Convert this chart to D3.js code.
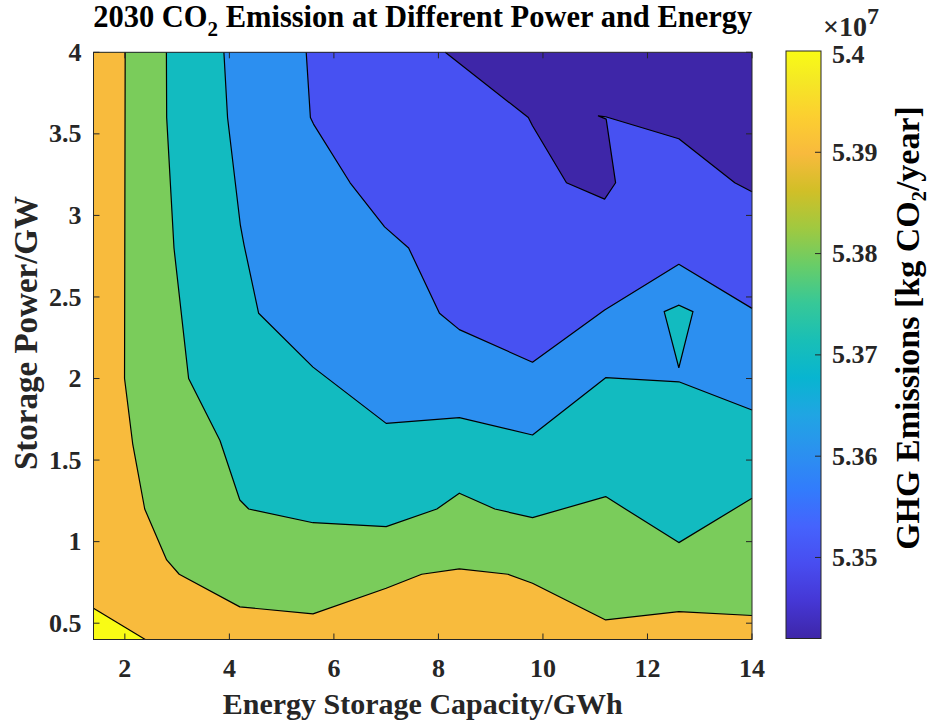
<!DOCTYPE html>
<html>
<head>
<meta charset="utf-8">
<script src="https://cdn.jsdelivr.net/npm/d3@7"></script>
<style>
  body { margin: 0; background: #fff; }
  text { font-family: "Liberation Serif", "Times New Roman", serif; font-weight: bold; }
</style>
</head>
<body>
<div id="chart"></div>
<script>
var width = 929, height = 727;

// contour levels, units of 1e7 kg CO2/year
var levels = [5.35, 5.36, 5.37, 5.38, 5.39, 5.40];
var zMin = 5.342, zMax = 5.40;

var xTicks = [2, 4, 6, 8, 10, 12, 14];
var yTicks = [0.5, 1, 1.5, 2, 2.5, 3, 3.5, 4];
var cTicks = [5.35, 5.36, 5.37, 5.38, 5.39, 5.40];

// contour lines: [energy GWh, power GW]
var line535 = [[8.13, 4.0], [9.72, 3.6], [9.8, 3.55], [10.45, 3.2], [11.18, 3.1], [11.39, 3.2],
               [11.21, 3.59], [11.06, 3.61], [11.2, 3.605], [12.6, 3.47], [13.67, 3.2], [14.0, 3.145]];
var line536 = [[5.47, 4.0], [5.55, 3.6], [5.61, 3.56], [6.31, 3.2], [6.97, 2.93], [7.43, 2.8],
               [8.02, 2.4], [8.4, 2.3], [9.8, 2.1], [11.18, 2.42], [12.6, 2.7], [14.0, 2.43]];
var line537 = [[3.895, 4.0], [3.965, 3.6], [4.21, 2.94], [4.28, 2.82], [4.56, 2.4], [5.6, 2.07],
               [7.0, 1.725], [8.4, 1.76], [9.8, 1.654], [11.2, 2.005], [12.6, 1.98], [14.0, 1.807]];
var island537 = [[12.32, 2.41], [12.6, 2.45], [12.87, 2.41], [12.6, 2.066]];
var line538 = [[2.795, 4.0], [2.8, 3.6], [2.94, 2.8], [3.22, 2.0], [3.82, 1.62], [4.2, 1.255],
               [4.37, 1.2], [5.6, 1.116], [7.0, 1.092], [7.97, 1.2], [8.4, 1.297], [9.08, 1.2],
               [9.8, 1.147], [11.2, 1.276], [12.6, 0.994], [14.0, 1.266]];
var line539 = [[2.006, 4.0], [1.994, 2.0], [2.15, 1.6], [2.38, 1.2], [2.8, 0.888], [3.04, 0.8],
               [4.2, 0.6], [5.6, 0.557], [7.0, 0.714], [7.68, 0.8], [8.4, 0.833], [9.33, 0.8],
               [9.8, 0.745], [11.2, 0.52], [12.6, 0.571], [14.0, 0.547]];
var line540 = [[1.4, 0.592], [2.39, 0.4]];

var contourLines = [line535, line536, line537, line538, line539, line540];

// parula colour map stops
var parulaPos = [0, 4, 8, 12, 16, 20, 24, 28, 32, 36, 40, 44, 48, 52, 56, 60, 63].map(function (d) { return d / 63; });
var parulaHex = ["#3e26a8", "#4537d5", "#484df0", "#4563fd", "#327cfc", "#2b91ef", "#20a5e3", "#08b5d0",
                 "#19bfb6", "#37c897", "#68cd68", "#a0c940", "#d1bf27", "#f8ba3d", "#fccf30", "#f5e924", "#f9fb15"];

var parula = d3.scaleLinear().domain(parulaPos).range(parulaHex).interpolate(d3.interpolateRgb);
function levelColor(z) { return parula((z - zMin) / (zMax - zMin)); }

var xMin = 1.4, xMax = 14, yMin = 0.4, yMax = 4;

var x = d3.scaleLinear().domain([xMin, xMax]).range([93.5, 752]);
var y = d3.scaleLinear().domain([yMin, yMax]).range([639.5, 52.3]);
var c = d3.scaleLinear().domain([zMin, zMax]).range([638.5, 51]);

var svg = d3.select("#chart").append("svg")
            .attr("width", width)
            .attr("height", height);

var axisColor = "#262626";

// position of a boundary point going clockwise round the plot box
function perim(p) {
  var e = 1e-6;
  if (Math.abs(p[1] - yMax) < e) return (p[0] - xMin) / (xMax - xMin);
  if (Math.abs(p[0] - xMax) < e) return 1 + (yMax - p[1]) / (yMax - yMin);
  if (Math.abs(p[1] - yMin) < e) return 2 + (xMax - p[0]) / (xMax - xMin);
  return 3 + (p[1] - yMin) / (yMax - yMin);
}
var corners = [[xMin, yMax], [xMax, yMax], [xMax, yMin], [xMin, yMin]];

// region where z >= level: the line plus the box boundary on its high side
function closeRegion(pts) {
  var pe = perim(pts[pts.length - 1]), ps = perim(pts[0]);
  if (ps <= pe) ps += 4;
  var out = pts.slice();
  for (var k = Math.ceil(pe); k < ps; k++) {
    out.push(corners[k % 4]);
  }
  return out;
}

var lineGen = d3.line().x(function (d) { return x(d[0]); }).y(function (d) { return y(d[1]); });

var plot = svg.append("g");

plot.append("rect")
    .attr("x", x(xMin)).attr("y", y(yMax))
    .attr("width", x(xMax) - x(xMin))
    .attr("height", y(yMin) - y(yMax))
    .attr("fill", parula(0));

contourLines.forEach(function (pts, i) {
  plot.append("path")
      .attr("d", lineGen(closeRegion(pts)) + "Z")
      .attr("fill", levelColor(levels[i]));
  if (levels[i] === 5.37) {
    plot.append("path")
        .attr("d", lineGen(island537) + "Z")
        .attr("fill", levelColor(5.37));
  }
});

contourLines.forEach(function (pts) {
  plot.append("path")
      .attr("d", lineGen(pts))
      .attr("fill", "none")
      .attr("stroke", "#000")
      .attr("stroke-width", 1.2)
      .attr("stroke-linejoin", "round");
});
plot.append("path")
    .attr("d", lineGen(island537) + "Z")
    .attr("fill", "none")
    .attr("stroke", "#000")
    .attr("stroke-width", 1.2);

// axes box with inward ticks on all sides
var tickLen = 6;
var ax = svg.append("g").attr("stroke", axisColor).attr("stroke-width", 1);

ax.append("rect")
  .attr("x", x(xMin)).attr("y", y(yMax))
  .attr("width", x(xMax) - x(xMin))
  .attr("height", y(yMin) - y(yMax))
  .attr("fill", "none");

xTicks.forEach(function (t) {
  ax.append("line").attr("x1", x(t)).attr("x2", x(t)).attr("y1", y(yMin)).attr("y2", y(yMin) - tickLen);
  ax.append("line").attr("x1", x(t)).attr("x2", x(t)).attr("y1", y(yMax)).attr("y2", y(yMax) + tickLen);
});
yTicks.forEach(function (t) {
  ax.append("line").attr("x1", x(xMin)).attr("x2", x(xMin) + tickLen).attr("y1", y(t)).attr("y2", y(t));
  ax.append("line").attr("x1", x(xMax)).attr("x2", x(xMax) - tickLen).attr("y1", y(t)).attr("y2", y(t));
});

svg.selectAll(".xlab").data(xTicks).enter().append("text")
   .attr("x", function (d) { return x(d); })
   .attr("y", 677)
   .attr("text-anchor", "middle")
   .attr("font-size", "26px")
   .attr("fill", axisColor)
   .text(function (d) { return d; });

svg.selectAll(".ylab").data(yTicks).enter().append("text")
   .attr("x", 81.5)
   .attr("y", function (d) { return y(d); })
   .attr("dy", "0.33em")
   .attr("text-anchor", "end")
   .attr("font-size", "26px")
   .attr("fill", axisColor)
   .text(function (d) { return d; });

// title
var title = svg.append("text")
               .attr("x", (x(xMin) + x(xMax)) / 2)
               .attr("y", 27)
               .attr("text-anchor", "middle")
               .attr("font-size", "30.5px")
               .attr("fill", "#000");
title.append("tspan").text("2030 CO");
title.append("tspan").text("2").attr("font-size", "21px").attr("dy", 9);
title.append("tspan").text(" Emission at Different Power and Energy").attr("dy", -9);

svg.append("text")
   .attr("x", (x(xMin) + x(xMax)) / 2)
   .attr("y", 714)
   .attr("text-anchor", "middle")
   .attr("font-size", "30px")
   .attr("fill", axisColor)
   .text("Energy Storage Capacity/GWh");

svg.append("text")
   .attr("transform", "translate(37,333) rotate(-90)")
   .attr("text-anchor", "middle")
   .attr("font-size", "33px")
   .attr("fill", axisColor)
   .text("Storage Power/GW");

// colour bar
var defs = svg.append("defs");
var grad = defs.append("linearGradient")
               .attr("id", "parulaGrad")
               .attr("x1", 0).attr("y1", 1).attr("x2", 0).attr("y2", 0);
parulaPos.forEach(function (p, i) {
  grad.append("stop").attr("offset", p).attr("stop-color", parulaHex[i]);
});

var cbX = 786, cbW = 35;
svg.append("rect")
   .attr("x", cbX).attr("y", c(zMax))
   .attr("width", cbW).attr("height", c(zMin) - c(zMax))
   .attr("fill", "url(#parulaGrad)")
   .attr("stroke", axisColor)
   .attr("stroke-width", 1);

cTicks.forEach(function (t) {
  if (t < zMax) {
    svg.append("line")
       .attr("x1", cbX + cbW).attr("x2", cbX + cbW - 6)
       .attr("y1", c(t)).attr("y2", c(t))
       .attr("stroke", axisColor);
  }
});

svg.selectAll(".clab").data(cTicks).enter().append("text")
   .attr("x", 832)
   .attr("y", function (d) { return c(d); })
   .attr("dy", function (d) { return d === zMax ? "0.45em" : "0.33em"; })
   .attr("font-size", "26px")
   .attr("fill", axisColor)
   .text(function (d) { return d3.format(".3~f")(d); });

var expo = svg.append("text")
              .attr("x", 823)
              .attr("y", 36)
              .attr("font-size", "28px")
              .attr("fill", axisColor);
expo.append("tspan").text("\u00d710");
expo.append("tspan").text("7").attr("font-size", "24px").attr("dy", -12);

svg.append("text")
   .attr("transform", "translate(919,328) rotate(-90)")
   .attr("text-anchor", "middle")
   .attr("font-size", "34px")
   .attr("fill", "#000")
   .text("GHG Emissions [kg CO\u2082/year]");
</script>
</body>
</html>
